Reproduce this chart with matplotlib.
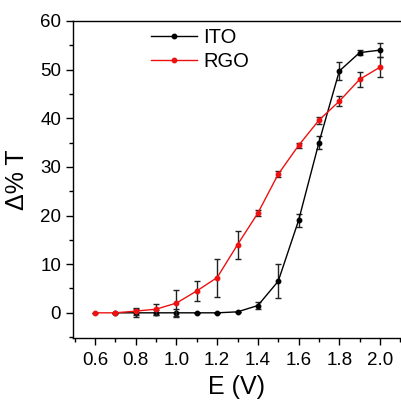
import matplotlib
matplotlib.use("Agg")
import matplotlib.pyplot as plt
from matplotlib.lines import Line2D
from matplotlib.ticker import MultipleLocator

plt.rcParams['font.family'] = ['Liberation Sans', 'DejaVu Sans']

# ITO
ito_e = [0.7, 0.8, 0.9, 1.0, 1.1, 1.2, 1.3, 1.4, 1.5, 1.6, 1.7, 1.8, 1.9, 2.0]
ito_t = [0.0, 0.0, 0.0, 0.0, 0.0, 0.0, 0.2, 1.5, 6.5, 19.0, 35.0, 49.7, 53.5, 54.0]
ito_err = [0.0, 0.8, 0.5, 0.8, 0.0, 0.0, 0.0, 0.8, 3.5, 1.4, 1.4, 1.9, 0.6, 1.5]

# RGO
rgo_e = [0.6, 0.7, 0.8, 0.9, 1.0, 1.1, 1.2, 1.3, 1.4, 1.5, 1.6, 1.7, 1.8, 1.9, 2.0]
rgo_t = [0.0, 0.0, 0.35, 0.75, 2.0, 4.5, 7.25, 14.0, 20.5, 28.5, 34.4, 39.6, 43.5, 48.0, 50.5]
rgo_err = [0.0, 0.0, 0.7, 1.1, 2.7, 2.1, 3.9, 2.9, 0.65, 0.6, 0.6, 0.7, 1.0, 1.5, 2.1]

x_ticks = [0.6, 0.8, 1.0, 1.2, 1.4, 1.6, 1.8, 2.0]
y_ticks = [0, 10, 20, 30, 40, 50, 60]

fig = plt.figure(figsize=(4.01, 4.03), dpi=100)
ax = fig.add_axes([0.182, 0.161, 0.818, 0.787])

ax.errorbar(ito_e, ito_t, yerr=ito_err, color='black', marker='o', ms=3.2,
            lw=1.0, ecolor='#222222', elinewidth=1.0, capsize=2.4, capthick=1.0,
            zorder=3)
ax.errorbar(rgo_e, rgo_t, yerr=rgo_err, color='#ee1111', marker='o', ms=3.2,
            lw=1.0, ecolor='#222222', elinewidth=1.0, capsize=2.4, capthick=1.0,
            zorder=4)

ax.set_xlim(0.492, 2.103)
ax.set_ylim(-5.2, 60)
ax.set_xticks(x_ticks)
ax.set_xticklabels([f"{v:.1f}" for v in x_ticks])
ax.set_yticks(y_ticks)
ax.xaxis.set_minor_locator(MultipleLocator(0.1))
ax.yaxis.set_minor_locator(MultipleLocator(5))
ax.tick_params(which='both', direction='out', labelsize=13.5, width=1.0)
ax.tick_params(which='major', length=5)
ax.tick_params(which='minor', length=3)
ax.tick_params(axis='x', pad=5)
ax.spines['right'].set_visible(False)
for s in ['left', 'bottom', 'top']:
    ax.spines[s].set_linewidth(1.0)

ax.set_xlabel('E (V)', fontsize=18, labelpad=4)
ax.set_ylabel('Δ% T', fontsize=18, labelpad=8)

handles = [
    Line2D([], [], color='black', marker='o', ms=3.2, lw=1.0),
    Line2D([], [], color='#ee1111', marker='o', ms=3.2, lw=1.0),
]
ax.legend(handles, ['ITO', 'RGO'], loc='upper left', bbox_to_anchor=(0.2, 1.015),
          frameon=False, fontsize=14.5, handlelength=2.3, handletextpad=0.3,
          labelspacing=0.25, borderaxespad=0.2)

fig.savefig("out.png", dpi=100)
